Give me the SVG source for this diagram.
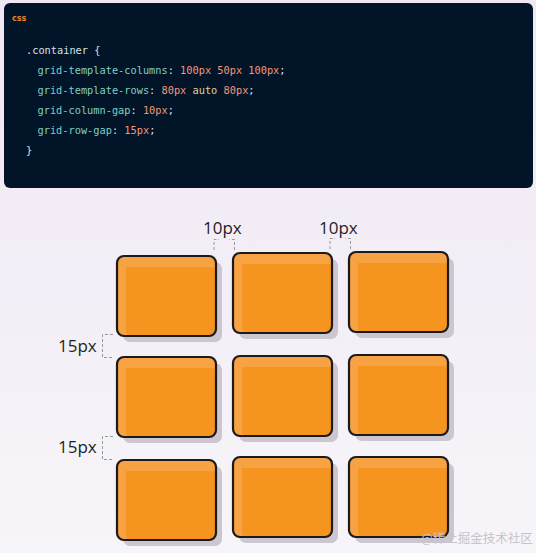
<svg xmlns="http://www.w3.org/2000/svg" width="536" height="553" viewBox="0 0 536 553">
<defs>
<linearGradient id="bg" x1="0" y1="0" x2="0" y2="1">
<stop offset="0" stop-color="#f0e7f5"/>
<stop offset="1" stop-color="#f7f5f9"/>
</linearGradient>
<g id="cell">
<rect x="6" y="6" width="99" height="80" rx="7" fill="#cbc6cf"/>
<rect x="0" y="0" width="99" height="80" rx="7" fill="#f7a243"/>
<path d="M9 11H96Q98 11 98 14V73Q98 79 92 79H12Q9 79 9 75Z" fill="#f5951f"/>
<rect x="0" y="0" width="99" height="80" rx="7" fill="none" stroke="#1c1a1c" stroke-width="2.2"/>
</g>
</defs>
<style>
.code{font-family:"DejaVu Sans Mono","Liberation Mono",monospace;font-size:10.3px;fill:#7fcfc2}
.pn{fill:#d7e1e6}
.num{fill:#f3977a}
.kw{fill:#e3cf9c}
.lbl{font-family:"Open Sans","Noto Sans",sans-serif;font-size:17px;fill:#1e1e1e}
.br{fill:none;stroke:#999;stroke-width:1;stroke-dasharray:3 2}
</style>
<rect width="536" height="553" fill="url(#bg)"/>
<g id="codeblock">
<rect x="4" y="3" width="529" height="185" rx="6" fill="#021528"/>
<text x="12" y="21" font-family="DejaVu Sans,sans-serif" font-size="8" font-weight="bold" fill="#e5862a">css</text>
<text class="code" x="26" y="54"><tspan class="pn">.container {</tspan></text>
<text class="code" x="37.5" y="74">grid-template-columns<tspan class="pn">: </tspan><tspan class="num">100px</tspan> <tspan class="num">50px</tspan> <tspan class="num">100px</tspan><tspan class="pn">;</tspan></text>
<text class="code" x="37.5" y="94">grid-template-rows<tspan class="pn">: </tspan><tspan class="num">80px</tspan> <tspan class="kw">auto</tspan> <tspan class="num">80px</tspan><tspan class="pn">;</tspan></text>
<text class="code" x="37.5" y="114">grid-column-gap<tspan class="pn">: </tspan><tspan class="num">10px</tspan><tspan class="pn">;</tspan></text>
<text class="code" x="37.5" y="134">grid-row-gap<tspan class="pn">: </tspan><tspan class="num">15px</tspan><tspan class="pn">;</tspan></text>
<text class="code" x="26" y="154"><tspan class="pn">}</tspan></text>
</g>
<g id="cells">
<use id="r1c1" href="#cell" x="117" y="256"/>
<use id="r1c2" href="#cell" x="233" y="253"/>
<use id="r1c3" href="#cell" x="349" y="252"/>
<use id="r2c1" href="#cell" x="117" y="357"/>
<use id="r2c2" href="#cell" x="233" y="356"/>
<use id="r2c3" href="#cell" x="349" y="355"/>
<use id="r3c1" href="#cell" x="117" y="460"/>
<use id="r3c2" href="#cell" x="233" y="457"/>
<use id="r3c3" href="#cell" x="349" y="457"/>
</g>
<g id="connectors">
<path class="br" d="M214 250V239.5H219M234.5 250V239.5H229.5"/>
<path class="br" d="M330 249V238.5H335M350.5 249V238.5H345.5"/>
<path class="br" d="M113 334.5H102.5V357.5H113"/>
<path class="br" d="M113 436.5H102.5V459.5H113"/>
</g>
<g id="labels">
<text class="lbl" x="203" y="234">10px</text>
<text class="lbl" x="319" y="234">10px</text>
<text class="lbl" x="58" y="352">15px</text>
<text class="lbl" x="58" y="453">15px</text>
</g>
<text x="421" y="543" font-family="Noto Sans CJK SC,sans-serif" font-size="12.5" fill="#c9c3cc">@稀土掘金技术社区</text>
</svg>
